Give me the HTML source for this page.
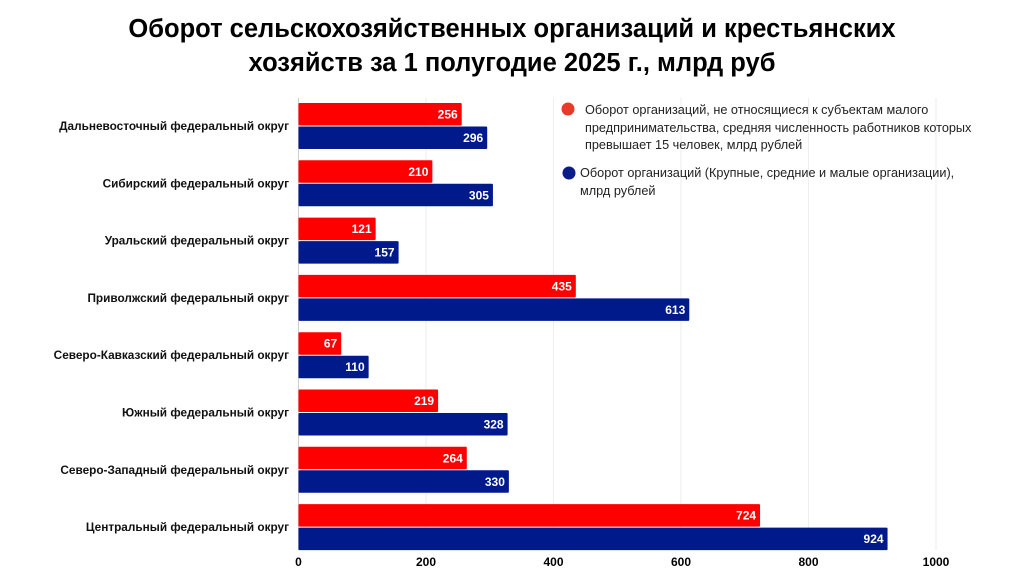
<!DOCTYPE html>
<html><head><meta charset="utf-8"><style>
body{margin:0;background:#fff;font-family:"Liberation Sans",sans-serif}
svg{display:block}
</style></head><body>
<svg width="1024" height="576" font-family="Liberation Sans, sans-serif">
<text x="512" y="37" text-anchor="middle" font-size="25.5" font-weight="bold">Оборот сельскохозяйственных организаций и крестьянских</text>
<text x="512" y="71" text-anchor="middle" font-size="25.5" font-weight="bold">хозяйств за 1 полугодие 2025 г., млрд руб</text>
<g id="grid"></g><g id="bars"></g><g id="labels"></g>
<g font-size="12.7" fill="#222">
<circle cx="568" cy="109" r="6.5" fill="#e8392b"/>
<text x="585" y="114">Оборот организаций, не относящиеся к субъектам малого</text>
<text x="585" y="132">предпринимательства, средняя численность работников которых</text>
<text x="585" y="149">превышает 15 человек, млрд рублей</text>
<circle cx="569" cy="173" r="6.5" fill="#0a1c8a"/>
<text x="580" y="177">Оборот организаций (Крупные, средние и малые организации),</text>
<text x="580" y="195">млрд рублей</text>
</g>
</svg>
<script>
const categories=["Дальневосточный федеральный округ","Сибирский федеральный округ","Уральский федеральный округ","Приволжский федеральный округ","Северо-Кавказский федеральный округ","Южный федеральный округ","Северо-Западный федеральный округ","Центральный федеральный округ"];
const seriesRed=[256,210,121,435,67,219,264,724];
const seriesBlue=[296,305,157,613,110,328,330,924];
const ticks=[0,200,400,600,800,1000];
const NS="http://www.w3.org/2000/svg";
const x=v=>298.5+v*0.6375;
const y0=i=>103+i*57.3;
function mk(t,a,p){const e=document.createElementNS(NS,t);for(const k in a)e.setAttribute(k,a[k]);p.appendChild(e);return e;}
const g=document.getElementById('grid'),b=document.getElementById('bars'),l=document.getElementById('labels');
ticks.forEach(t=>{
 const ln=mk('line',{x1:x(t),x2:x(t),y1:98,y2:550,stroke:t===0?'#ccc':'#eee','stroke-width':1},g);
 
 
 const tx=mk('text',{x:x(t),y:566,'text-anchor':'middle','font-size':12,'font-weight':'bold'},g);
 tx.textContent=t;
 
 
});
categories.forEach((c,i)=>{
 const yy=y0(i);
 [[seriesRed[i],'#ff0000',yy,'bar-red'],[seriesBlue[i],'#001a8c',yy+23.5,'bar-blue']].forEach(([v,col,by,nm])=>{
  const r=mk('rect',{x:x(0),y:by,width:x(v)-x(0),height:22.5,fill:col,rx:1},b);
  
  
  const t=mk('text',{x:x(v)-4,y:by+15.5,'text-anchor':'end','font-size':12,'font-weight':'bold',fill:'#fff'},b);
  t.textContent=v;
  
  
 });
 const lb=mk('text',{x:289,y:yy+27,'text-anchor':'end','font-size':11.8,'font-weight':'bold',fill:'#111'},l);
 lb.textContent=c;
 
 
});
</script>
</body></html>
